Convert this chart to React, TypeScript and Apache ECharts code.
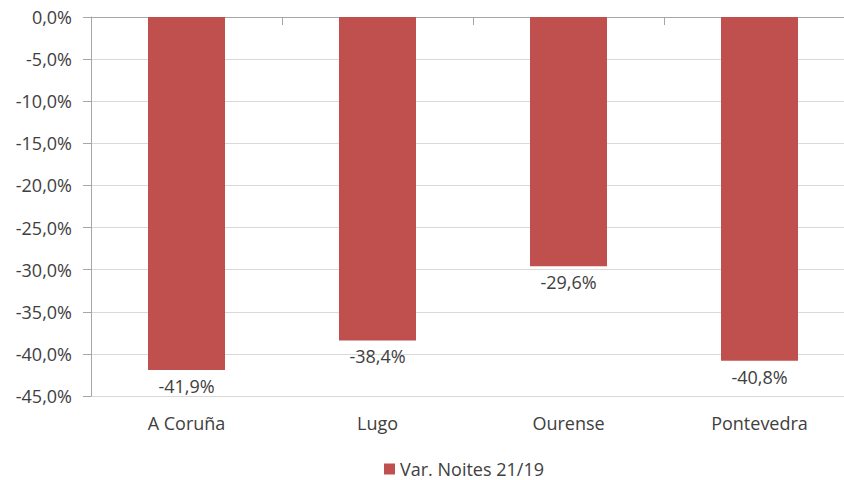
import React, { useEffect, useRef } from "react";
import * as echarts from "echarts";

const categories = ["A Coruña", "Lugo", "Ourense", "Pontevedra"];
const values = [-41.9, -38.4, -29.6, -40.8];
const seriesName = "Var. Noites 21/19";

const fmt = (v: number) => v.toFixed(1).replace(".", ",") + "%";
const FONT = "Open Sans";
const TEXT = "#404040";
const FS = 18;

export default function App() {
  const ref = useRef<HTMLDivElement>(null);
  useEffect(() => {
    if (!ref.current) return;
    const chart = echarts.init(ref.current, undefined, { renderer: "svg" });
    chart.setOption({
      animation: false,
      textStyle: { fontFamily: FONT },
      grid: { left: 91, top: 17, width: 764, height: 379, containLabel: false },
      legend: {
        data: [seriesName],
        left: 379,
        top: 455,
        icon: "rect",
        itemWidth: 11,
        itemHeight: 11,
        itemGap: 5,
        textStyle: { fontFamily: FONT, fontSize: FS, color: TEXT },
      },
      xAxis: [
        {
          type: "category",
          data: categories,
          position: "bottom",
          axisLine: { show: false, onZero: false },
          axisTick: { show: false },
          axisLabel: { fontFamily: FONT, fontSize: FS, color: TEXT, margin: 18 },
        },
        {
          type: "category",
          data: categories,
          position: "top",
          axisLine: { show: true, lineStyle: { color: "#a6a6a6", width: 1 } },
          axisTick: { show: true, inside: true, length: 8, lineStyle: { color: "#a6a6a6" } },
          axisLabel: { show: false },
        },
      ],
      yAxis: {
        type: "value",
        min: -45,
        max: 0,
        interval: 5,
        axisLine: { show: true, lineStyle: { color: "#a6a6a6" } },
        axisTick: { show: true, length: 8, lineStyle: { color: "#a6a6a6" } },
        splitLine: { lineStyle: { color: "#d9d9d9" } },
        axisLabel: {
          formatter: (v: number) => fmt(v),
          fontFamily: FONT,
          fontSize: FS,
          color: TEXT,
          margin: 19,
        },
      },
      series: [
        {
          name: seriesName,
          type: "bar",
          xAxisIndex: 0,
          data: values,
          barWidth: 77,
          itemStyle: { color: "#C0504D" },
          label: {
            show: true,
            position: "bottom",
            distance: 7,
            formatter: (p: any) => fmt(p.value),
            fontFamily: FONT,
            fontSize: FS,
            color: TEXT,
          },
        },
      ],
    });
    return () => chart.dispose();
  }, []);
  return (
    <div style={{ width: 844, height: 480, position: "absolute", left: 0, top: 0, overflow: "hidden" }}>
      <div ref={ref} style={{ width: 880, height: 480 }} />
    </div>
  );
}
